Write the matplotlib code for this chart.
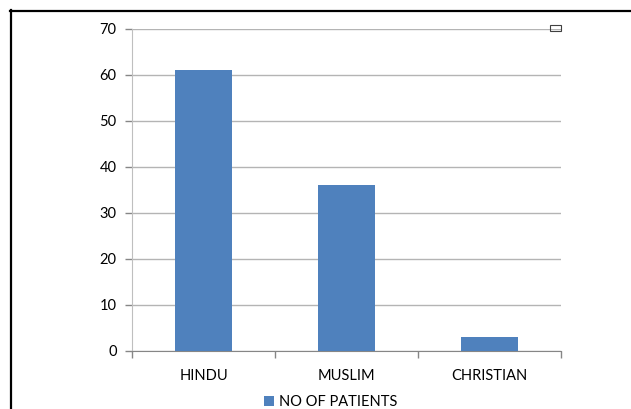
import matplotlib
matplotlib.use('Agg')
import matplotlib.pyplot as plt
from matplotlib.patches import Rectangle
from matplotlib.lines import Line2D

categories = ['HINDU', 'MUSLIM', 'CHRISTIAN']
patients = [61, 36, 3]
yticks = [0, 10, 20, 30, 40, 50, 60, 70]

plt.rcParams['font.family'] = ['Lato', 'DejaVu Sans']

fig = plt.figure(figsize=(6.31, 4.09), dpi=100)
ax = fig.add_axes([0.2092, 0.143, 0.680, 0.787])

x = range(len(categories))
ax.bar(x, patients, width=0.4, color='#4F81BD', zorder=3, label='NO OF PATIENTS')

ax.set_xlim(-0.5, len(categories) - 0.5)
ax.set_ylim(0, 70)
ax.set_yticks(yticks)
ax.set_yticklabels([str(t) for t in yticks])
ax.set_xticks(list(x))
ax.set_xticklabels(categories)
ax.tick_params(axis='x', length=0, pad=13, labelsize=10.5, colors='#000000')
ax.tick_params(axis='y', length=5, width=1, color='#868686', pad=6, labelsize=10.5)
# category boundary ticks
ax.set_xticks([-0.5, 0.5, 1.5, 2.5], minor=True)
ax.tick_params(axis='x', which='minor', length=5, width=1, color='#868686')

ax.yaxis.grid(True, color='#B4B4B4', linewidth=1, zorder=0)
for s in ['top', 'right']:
    ax.spines[s].set_visible(False)
ax.spines['left'].set_color('#BFBFBF')
ax.spines['bottom'].set_color('#868686')

fig.legend(loc='center', bbox_to_anchor=(331 / 631, 1 - 402 / 409), frameon=False,
           fontsize=10.5, handlelength=0.7, handleheight=0.7, handletextpad=0.35,
           borderpad=0)

# outer frame (left and top only)
fig.add_artist(Line2D([11 / 631, 11 / 631], [0, 1 - 10 / 409], color='black', linewidth=1.6,
                      transform=fig.transFigure))
fig.add_artist(Line2D([10 / 631, 1], [1 - 11 / 409, 1 - 11 / 409], color='black', linewidth=1.6,
                      transform=fig.transFigure))
# small empty box at top right
fig.add_artist(Rectangle((550 / 631, 1 - 31 / 409), 11 / 631, 6 / 409, fill=False,
                         edgecolor='#404040', linewidth=0.8, transform=fig.transFigure))

fig.savefig('out.png', dpi=100)
